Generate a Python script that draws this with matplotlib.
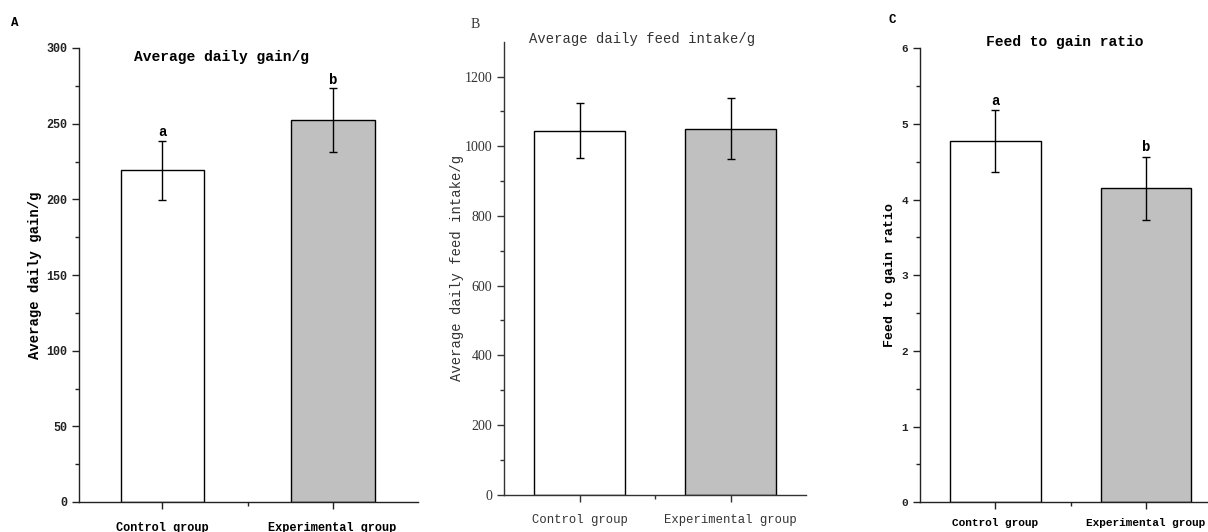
import matplotlib
matplotlib.use("Agg")
import matplotlib.pyplot as plt
from matplotlib.ticker import MultipleLocator, FixedLocator

groups = ["Control group", "Experimental group"]

gain_mean = [219.2, 252.3]
gain_err = [19.5, 21.0]
gain_letters = ["a", "b"]

feed_mean = [1045, 1050]
feed_err = [80, 88]

ratio_mean = [4.77, 4.15]
ratio_err = [0.41, 0.42]
ratio_letters = ["a", "b"]

bar_colors = ["white", "#c0c0c0"]

W, H = 1208, 532
fig = plt.figure(figsize=(W / 100, H / 100), dpi=100)


def ax_at(l, r, t, b):
    return fig.add_axes([l / W, 1 - b / H, (r - l) / W, (b - t) / H])


def style(ax, font, weight, size, color):
    for s in ["top", "right"]:
        ax.spines[s].set_visible(False)
    for s in ["left", "bottom"]:
        ax.spines[s].set_linewidth(1.0)
        ax.spines[s].set_color(color)
    ax.tick_params(which="major", direction="out", length=5, width=1, color=color)
    ax.tick_params(which="minor", direction="out", length=3, width=1, color=color)
    ax.xaxis.set_major_locator(FixedLocator([0, 1]))
    ax.xaxis.set_minor_locator(FixedLocator([0.5]))
    for lab in ax.get_yticklabels():
        lab.set_fontfamily(font)
        lab.set_fontweight(weight)
        lab.set_fontsize(size)
        lab.set_color(color)


# ---------- Panel A ----------
axA = ax_at(79, 418, 48, 502)
axA.bar([0, 1], gain_mean, width=0.49, color=bar_colors, edgecolor="black", linewidth=1.0)
axA.errorbar([0, 1], gain_mean, yerr=gain_err, fmt="none", ecolor="black", elinewidth=1, capsize=3, capthick=1)
axA.set_xlim(-0.49, 1.5)
axA.set_ylim(0, 300)
axA.yaxis.set_major_locator(MultipleLocator(50))
axA.yaxis.set_minor_locator(MultipleLocator(25))
axA.set_xticklabels([])
style(axA, "Liberation Mono", "bold", 8.5, "#222222")
for i, (m, e, t) in enumerate(zip(gain_mean, gain_err, gain_letters)):
    axA.text(i, m + e + 1, t, ha="center", va="bottom", fontsize=10, fontweight="bold", family="Liberation Mono")
for i, g in enumerate(groups):
    fig.text((162 + 170 * i) / W, 1 - 522 / H, g, ha="center", va="top", fontsize=8.6, fontweight="bold", family="Liberation Mono")
fig.text(221 / W, 1 - 57 / H, "Average daily gain/g", ha="center", va="center", fontsize=10.5, fontweight="bold", family="Liberation Mono")
fig.text(35 / W, 1 - 275 / H, "Average daily gain/g", ha="center", va="center", rotation=90, fontsize=10, fontweight="bold", family="Liberation Mono")
fig.text(15 / W, 1 - 23 / H, "A", ha="center", va="center", fontsize=9, fontweight="bold", family="Liberation Mono")

# ---------- Panel B ----------
axB = ax_at(504, 806, 41.7, 494.7)
axB.bar([0, 1], feed_mean, width=0.6, color=bar_colors, edgecolor="black", linewidth=1.0)
axB.errorbar([0, 1], feed_mean, yerr=feed_err, fmt="none", ecolor="black", elinewidth=1, capsize=3, capthick=1)
axB.set_xlim(-0.5, 1.5)
axB.set_ylim(0, 1300)
axB.yaxis.set_major_locator(FixedLocator([0, 200, 400, 600, 800, 1000, 1200]))
axB.yaxis.set_minor_locator(FixedLocator([100, 300, 500, 700, 900, 1100]))
axB.set_xticklabels([])
style(axB, "Liberation Serif", "normal", 10, "#333333")
for i, g in enumerate(groups):
    fig.text((580 + 150 * i) / W, 1 - 520 / H, g, ha="center", va="center", fontsize=8.8, family="Liberation Mono", color="#333333")
fig.text(642 / W, 1 - 39 / H, "Average daily feed intake/g", ha="center", va="center", fontsize=10, family="Liberation Mono", color="#333333")
fig.text(457 / W, 1 - 268 / H, "Average daily feed intake/g", ha="center", va="center", rotation=90, fontsize=10, family="Liberation Mono", color="#333333")
fig.text(475 / W, 1 - 24 / H, "B", ha="center", va="center", fontsize=10, family="Liberation Serif", color="#333333")

# ---------- Panel C ----------
axC = ax_at(920, 1208, 48.3, 502.3)
axC.bar([0, 1], ratio_mean, width=0.6, color=bar_colors, edgecolor="black", linewidth=1.0)
axC.errorbar([0, 1], ratio_mean, yerr=ratio_err, fmt="none", ecolor="black", elinewidth=1, capsize=3, capthick=1)
axC.set_xlim(-0.5, 1.41)
axC.set_ylim(0, 6)
axC.yaxis.set_major_locator(MultipleLocator(1))
axC.yaxis.set_minor_locator(MultipleLocator(0.5))
axC.set_xticklabels([])
style(axC, "Liberation Mono", "bold", 8, "#222222")
for i, (m, e, t) in enumerate(zip(ratio_mean, ratio_err, ratio_letters)):
    axC.text(i, m + e + 0.03, t, ha="center", va="bottom", fontsize=10, fontweight="bold", family="Liberation Mono")
for i, g in enumerate(groups):
    fig.text((995 + 151 * i) / W, 1 - 518 / H, g, ha="center", va="top", fontsize=8, fontweight="bold", family="Liberation Mono")
fig.text(1065 / W, 1 - 42 / H, "Feed to gain ratio", ha="center", va="center", fontsize=10.5, fontweight="bold", family="Liberation Mono")
fig.text(890 / W, 1 - 275 / H, "Feed to gain ratio", ha="center", va="center", rotation=90, fontsize=9.5, fontweight="bold", family="Liberation Mono")
fig.text(892 / W, 1 - 20 / H, "C", ha="center", va="center", fontsize=9, fontweight="bold", family="Liberation Mono")

fig.savefig("out.png", dpi=100)
